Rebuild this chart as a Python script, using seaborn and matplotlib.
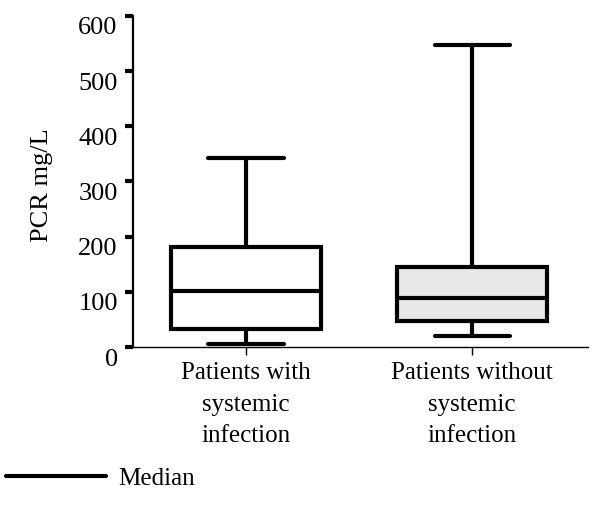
import matplotlib
matplotlib.use("Agg")
import matplotlib.pyplot as plt
import matplotlib.transforms as mtransforms
from matplotlib.lines import Line2D
import seaborn as sns
import pandas as pd

# Data (five-number summaries: min, Q1, median, Q3, max)
groups = ["Patients with\nsystemic\ninfection", "Patients without\nsystemic\ninfection"]
with_infection = [6, 33, 101, 182, 342]
without_infection = [20, 47, 89, 145, 547]
y_ticks = [0, 100, 200, 300, 400, 500, 600]
fill_colors = ["#ffffff", "#e8e8e8"]

df = pd.DataFrame({
    "group": [groups[0]] * len(with_infection) + [groups[1]] * len(without_infection),
    "value": with_infection + without_infection,
})

sns.set_theme(style="ticks")
plt.rcParams["font.family"] = ["Liberation Serif", "DejaVu Serif"]
plt.rcParams["text.color"] = "black"
plt.rcParams["axes.labelcolor"] = "black"
plt.rcParams["xtick.color"] = "black"
plt.rcParams["ytick.color"] = "black"
plt.rcParams["axes.edgecolor"] = "black"

fig = plt.figure(figsize=(6.0, 5.13), dpi=100)
ax = fig.add_axes([133 / 600, 1 - 347 / 513, 455 / 600, 331 / 513])

sns.boxplot(
    data=df, x="group", y="value", hue="group", order=groups, hue_order=groups,
    palette=dict(zip(groups, fill_colors)), saturation=1, whis=(0, 100),
    width=0.664, linecolor="black", linewidth=3, legend=False, ax=ax,
    showfliers=False,
)

ax.set_xlim(-0.5, 1.513)
ax.set_ylim(0, 600)
ax.set_yticks(y_ticks)
ax.set_yticklabels([str(t) for t in y_ticks], fontsize=19)
ax.set_xticks(range(len(groups)))
ax.set_xticklabels(groups, fontsize=18, linespacing=1.55)
ax.set_xlabel("")
ax.set_ylabel("PCR mg/L", fontsize=19)
ax.yaxis.set_label_coords(-0.175, 0.49)

for s in ["top", "right"]:
    ax.spines[s].set_visible(False)
ax.spines["left"].set_linewidth(1.6)
ax.spines["bottom"].set_linewidth(1.0)
ax.tick_params(axis="y", length=6, width=3, pad=5, colors="black")
ax.tick_params(axis="x", length=6, width=1, pad=5, colors="black")

offset = mtransforms.ScaledTranslation(0, -10 / 100, fig.dpi_scale_trans)
for lbl in ax.get_yticklabels():
    lbl.set_transform(lbl.get_transform() + offset)

handle = Line2D([], [], color="black", lw=3)
fig.legend([handle], ["Median"], loc="lower left", bbox_to_anchor=(-0.007, 0.026),
           frameon=False, fontsize=18, handlelength=4, handletextpad=0.5,
           borderaxespad=0)

fig.savefig("out.png", dpi=100)
